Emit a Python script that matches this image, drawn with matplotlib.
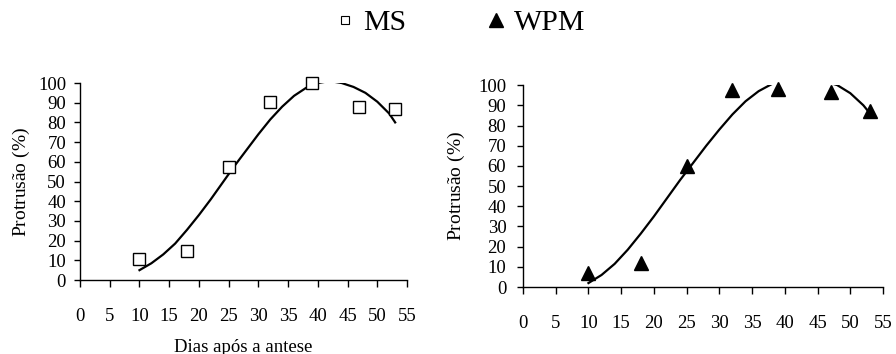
import matplotlib
matplotlib.use("Agg")
import matplotlib.pyplot as plt
from matplotlib.lines import Line2D

plt.rcParams['font.family'] = ['Liberation Serif', 'DejaVu Serif']
plt.rcParams['mathtext.fontset'] = 'custom'
plt.rcParams['mathtext.it'] = 'Liberation Serif:italic'
plt.rcParams['mathtext.rm'] = 'Liberation Serif'

# dados observados
dias = [10, 18, 25, 32, 39, 47, 53]
ms = [10.5, 14.7, 57.5, 90.3, 100, 88, 86.8]
wpm = [6.8, 12, 59.8, 97.8, 98, 96.5, 87.3]

# linhas de tendência
ms_tx = [10, 12, 14, 16, 18, 20, 22, 24, 26, 28, 30, 32, 34, 36, 38, 40, 42, 44, 46, 48, 50, 52, 53]
ms_ty = [5, 8.5, 13, 18.5, 25.5, 33, 41, 49.5, 58, 66, 74, 81.5, 88, 93.5, 97.5, 100, 101, 100, 98, 95, 90.5, 84.5, 80]
wpm_tx = [10, 12, 14, 16, 18, 20, 22, 24, 26, 28, 30, 32, 34, 36, 38, 40, 43, 46, 48, 50, 52, 53]
wpm_ty = [2, 6, 11.5, 18.5, 26.5, 35, 44, 53, 61.5, 70, 78, 85.5, 92, 97, 100.5, 102.5, 103.5, 102, 100, 96, 90, 86]

xticks = list(range(0, 56, 5))
yticks = list(range(0, 101, 10))

fig = plt.figure(figsize=(8.96, 3.54), dpi=100)
ax1 = fig.add_axes([0.0893, 0.209, 0.365, 0.5565])
ax2 = fig.add_axes([0.5837, 0.189, 0.4018, 0.5706])


def estilo(ax, ypad, lpad):
    ax.set_xlim(0, 55)
    ax.set_ylim(0, 100)
    ax.set_xticks(xticks)
    ax.set_yticks(yticks)
    for s in ['top', 'right']:
        ax.spines[s].set_visible(False)
    for s in ['left', 'bottom']:
        ax.spines[s].set_linewidth(1.0)
    ax.tick_params(axis='x', direction='out', length=5, width=1, pad=15, labelsize=13.5)
    ax.tick_params(axis='y', direction='out', length=4, width=1, pad=ypad, labelsize=13.5)
    ax.set_ylabel(r'Protrusão ($\mathit{\%}$)', fontsize=14, labelpad=lpad)


ax1.plot(ms_tx, ms_ty, color='black', lw=1.6, solid_joinstyle='round')
ax1.plot(dias, ms, ls='none', marker='s', ms=8.5, mfc='white', mec='black', mew=1.0, clip_on=False)
estilo(ax1, 6, 4)
ax1.set_xlabel('Dias após a antese', fontsize=13.5, labelpad=10)

ax2.plot(wpm_tx, wpm_ty, color='black', lw=1.6, solid_joinstyle='round')
ax2.plot(dias, wpm, ls='none', marker='^', ms=9.5, color='black', clip_on=False)
estilo(ax2, 8, 8)

handles = [
    Line2D([], [], ls='none', marker='s', ms=5.5, mfc='white', mec='black', mew=0.8, label='MS'),
    Line2D([], [], ls='none', marker='^', ms=10, color='black', label='WPM'),
]
fig.legend(handles=handles, loc='upper center', bbox_to_anchor=(0.511, 1.05), ncol=2,
           frameon=False, fontsize=21.5, handletextpad=0.1, columnspacing=2.5, handlelength=1.0)

fig.savefig('out.png', dpi=100)
